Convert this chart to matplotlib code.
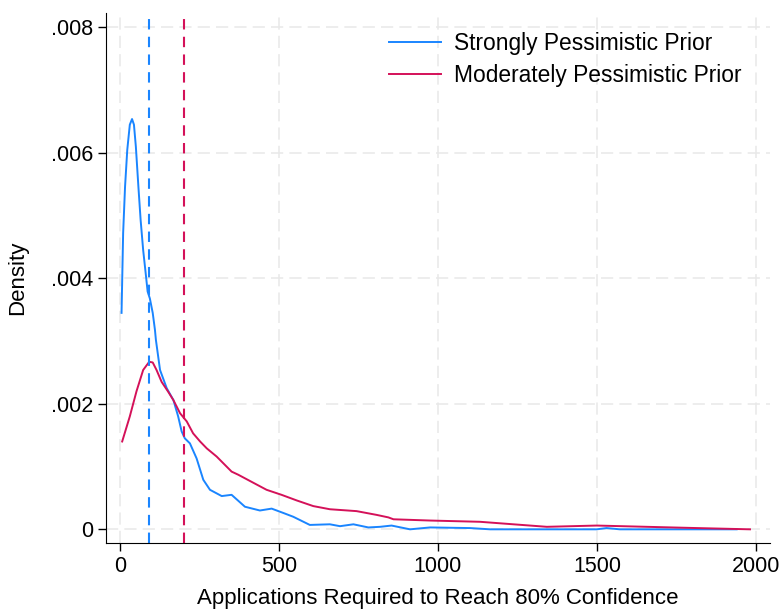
import matplotlib
matplotlib.use("Agg")
import matplotlib.pyplot as plt
import numpy as np

plt.rcParams['font.family'] = ['Liberation Sans', 'DejaVu Sans']

# density estimates
strong_x = [5, 10, 16, 23, 31, 38, 44, 50, 58, 65, 73, 82, 87, 94, 103, 110, 113, 126,
            147, 168, 183, 194, 204, 220, 241, 262, 283, 320, 351, 393, 440, 477,
            514, 545, 597, 660, 692, 734, 781, 818, 854, 912, 975, 1101, 1164, 1499,
            1530, 1572, 1939]
strong_y = [0.00345, 0.00472, 0.00546, 0.00605, 0.00645, 0.00654, 0.00645, 0.0061,
            0.00546, 0.00493, 0.00445, 0.00403, 0.00379, 0.00368, 0.00345, 0.00318,
            0.00302, 0.00254, 0.00225, 0.00206, 0.0018, 0.00156, 0.00145, 0.00137,
            0.00113, 0.00079, 0.00063, 0.00053, 0.00055, 0.00036, 0.00030, 0.00033,
            0.00026, 0.00020, 0.00007, 0.00008, 0.00005, 0.00008, 0.00003, 0.00004,
            0.00006, 0.0, 0.00003, 0.00002, 0.0, 0.0, 0.00002, 0.0, 0.0]

moderate_x = [7, 31, 52, 73, 92, 103, 115, 131, 152, 168, 189, 210, 230, 252, 273, 304,
              351, 372, 409, 461, 508, 556, 608, 660, 744, 807, 844, 860, 975, 1132,
              1237, 1342, 1499, 1656, 1814, 1981]
moderate_y = [0.0014, 0.0018, 0.0022, 0.00254, 0.00267, 0.00266, 0.00254, 0.00235,
              0.00219, 0.00206, 0.00185, 0.00172, 0.00153, 0.0014, 0.00129, 0.00116,
              0.00092, 0.00087, 0.00077, 0.00063, 0.00055, 0.00046, 0.00037, 0.00032,
              0.00029, 0.00023, 0.00019, 0.00016, 0.00014, 0.00012,
              0.00008, 0.00004, 0.00006, 0.00004, 0.00002, 0.0]

medians = [90, 202]
labels = ['Strongly Pessimistic Prior', 'Moderately Pessimistic Prior']
colors = ['#1A85FF', '#D41159']
xticks = [0, 500, 1000, 1500, 2000]
yticks = [0, 0.002, 0.004, 0.006, 0.008]
ytick_labels = ['0', '.002', '.004', '.006', '.008']

fig = plt.figure(figsize=(7.82, 6.11), dpi=100)
ax = fig.add_axes([0.1355, 0.1113, 0.8492, 0.8674])

ax.plot(strong_x, strong_y, color=colors[0], lw=1.4, label=labels[0],
        solid_joinstyle='round')
ax.plot(moderate_x, moderate_y, color=colors[1], lw=1.4, label=labels[1],
        solid_joinstyle='round')
for m, c in zip(medians, colors):
    ax.axvline(m, color=c, lw=1.5, ls=(0, (5, 3.5)))

ax.set_xlim(-44, 2044)
ax.set_ylim(-0.000218, 0.00823)
ax.set_xticks(xticks)
ax.set_yticks(yticks)
ax.set_yticklabels(ytick_labels)
ax.grid(True, color='#e8e8e8', lw=1.1, ls=(0, (8, 4)))
ax.set_axisbelow(True)
for s in ['top', 'right']:
    ax.spines[s].set_visible(False)
ax.tick_params(labelsize=15.5, length=6, width=1, direction='out')
ax.set_xlabel('Applications Required to Reach 80% Confidence', fontsize=16, labelpad=8)
ax.set_ylabel('Density', fontsize=16, labelpad=16)

leg = ax.legend(loc='upper left', frameon=False, fontsize=16.4,
                handlelength=2.3, handletextpad=0.55, labelspacing=0.4,
                bbox_to_anchor=(0.402, 0.995), borderaxespad=0.3)

fig.savefig('out.png', dpi=100)
